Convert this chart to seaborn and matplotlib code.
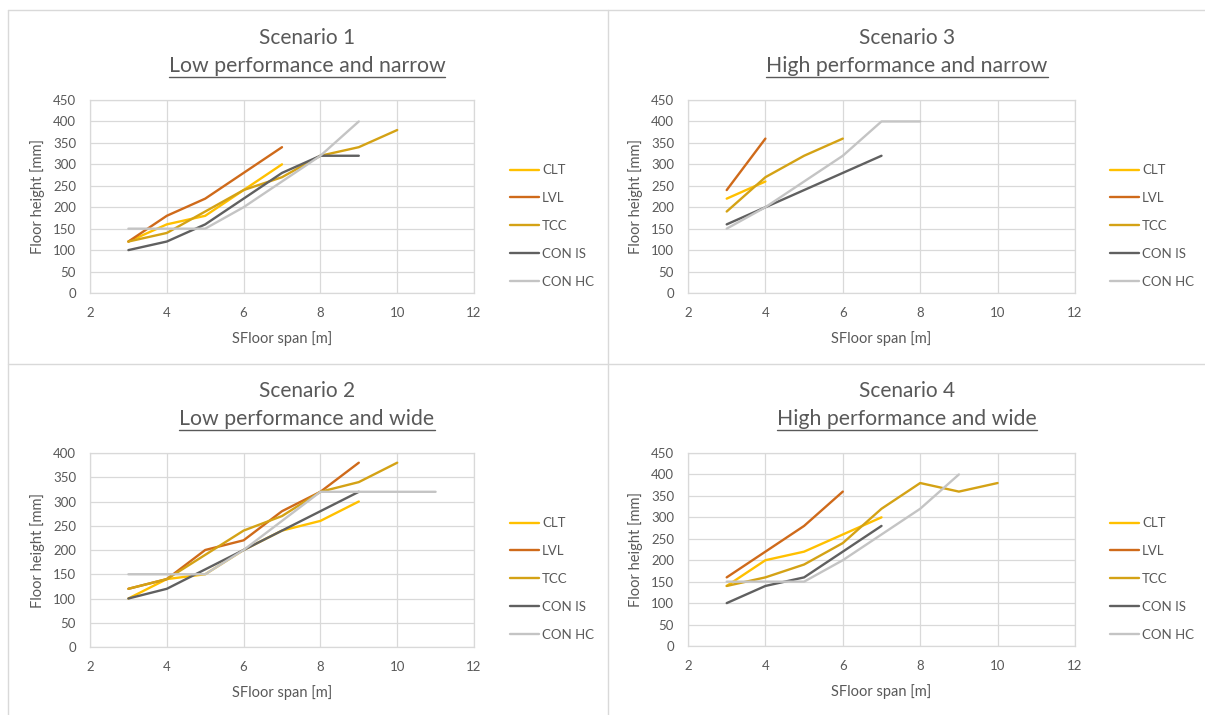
import pandas as pd
import matplotlib
matplotlib.use("Agg")
import matplotlib.pyplot as plt
from matplotlib.lines import Line2D
import seaborn as sns

# floor spans (x) shared by all scenarios
span = [3, 4, 5, 6, 7, 8, 9, 10, 11]

series_names = ["CLT", "LVL", "TCC", "CON IS", "CON HC"]
colours = ["#FFC000", "#CF6A1A", "#D4A215", "#606060", "#C4C4C4"]

# floor heights [mm], each list starts at span 3
s1 = {
    "CLT": [120, 160, 180, 240, 300],
    "LVL": [120, 180, 220, 280, 340],
    "TCC": [120, 140, 190, 240, 270, 320, 340, 380],
    "CON IS": [100, 120, 160, 220, 280, 320, 320],
    "CON HC": [150, 150, 150, 200, 260, 320, 400],
}
s2 = {
    "CLT": [100, 140, 150, 200, 240, 260, 300],
    "LVL": [120, 140, 200, 220, 280, 320, 380],
    "TCC": [120, 140, 190, 240, 270, 320, 340, 380],
    "CON IS": [100, 120, 160, 200, 240, 280, 320],
    "CON HC": [150, 150, 150, 200, 260, 320, 320, 320, 320],
}
s3 = {
    "CLT": [220, 260],
    "LVL": [240, 360],
    "TCC": [190, 270, 320, 360],
    "CON IS": [160, 200, 240, 280, 320],
    "CON HC": [150, 200, 260, 320, 400, 400],
}
s4 = {
    "CLT": [140, 200, 220, 260, 300],
    "LVL": [160, 220, 280, 360],
    "TCC": [140, 160, 190, 240, 320, 380, 360, 380],
    "CON IS": [100, 140, 160, 220, 280],
    "CON HC": [150, 150, 150, 200, 260, 320, 400],
}

titles = ["Scenario 1", "Scenario 2", "Scenario 3", "Scenario 4"]
subtitles = ["Low performance and narrow", "Low performance and wide",
             "High performance and narrow", "High performance and wide"]
y_max = [450, 400, 450, 450]

sns.set_theme(style="white")
plt.rcParams["font.family"] = ["Lato", "DejaVu Sans"]

W, H = 1205, 715
fig = plt.figure(figsize=(W / 100, H / 100), dpi=100)
grey = "#595959"

def to_long(d):
    rows = []
    for name in series_names:
        for x, y in zip(span, d[name]):
            rows.append({"span": x, "height": y, "series": name})
    return pd.DataFrame(rows)

# pixel boxes: left, top, right, bottom of plot area; panel centre x; title y; legend x, y
layout = [
    (90, 100, 474, 293, 307, 38, 505, 159),
    (90, 453, 474, 647, 307, 391, 505, 512),
    (688, 100, 1075, 293, 907, 38, 1105, 159),
    (688, 453, 1075, 646, 907, 391, 1105, 512),
]

fig.canvas.draw()
renderer = fig.canvas.get_renderer()

for i, data in enumerate([s1, s2, s3, s4]):
    l, t, r, b, cx, ty, lx, ly = layout[i]
    ax = fig.add_axes([l / W, 1 - b / H, (r - l) / W, (b - t) / H])
    df = to_long(data)
    sns.lineplot(data=df, x="span", y="height", hue="series",
                 hue_order=series_names, palette=colours, linewidth=1.7,
                 ax=ax, legend=True)
    ax.set_xlim(2, 12)
    ax.set_ylim(0, y_max[i])
    ax.set_xticks(range(2, 13, 2))
    ax.set_yticks(range(0, y_max[i] + 1, 50))
    ax.grid(True, color="#D9D9D9", linewidth=0.9)
    ax.set_axisbelow(True)
    for sp in ax.spines.values():
        sp.set_color("#D9D9D9")
        sp.set_linewidth(0.9)
    ax.tick_params(colors=grey, labelsize=9.5, length=0)
    ax.tick_params(axis="x", pad=10)
    ax.tick_params(axis="y", pad=10)
    ax.set_xlabel("SFloor span [m]", color=grey, fontsize=10.5, labelpad=9)
    ax.set_ylabel("Floor height [mm]", color=grey, fontsize=10.5, labelpad=6)

    handles, labels = ax.get_legend_handles_labels()
    ax.legend(handles, labels, loc="upper left",
              bbox_to_anchor=(lx / W, 1 - ly / H), bbox_transform=fig.transFigure,
              frameon=False, fontsize=9.5, labelcolor=grey, handlelength=2.2,
              handletextpad=0.2, labelspacing=1.2, borderaxespad=0)

    fig.text(cx / W, 1 - ty / H, titles[i], ha="center", va="center",
             fontsize=15, color=grey)
    sub = fig.text(cx / W, 1 - (ty + 28) / H, subtitles[i], ha="center",
                   va="center", fontsize=15.3, color=grey)
    bb = sub.get_window_extent(renderer=renderer)
    uy = bb.y0 - 1
    fig.add_artist(Line2D([bb.x0 / W, bb.x1 / W], [uy / H, uy / H],
                          transform=fig.transFigure, color=grey, linewidth=1))

# panel borders
border = "#D9D9D9"
for xs, ys in [([8, 8], [10, 715]), ([8, 1205], [10, 10]),
               ([608, 608], [10, 715]), ([8, 1205], [364, 364])]:
    fig.add_artist(Line2D([x / W for x in xs], [1 - y / H for y in ys],
                          transform=fig.transFigure, color=border, linewidth=1))

fig.savefig("out.png", dpi=100)
